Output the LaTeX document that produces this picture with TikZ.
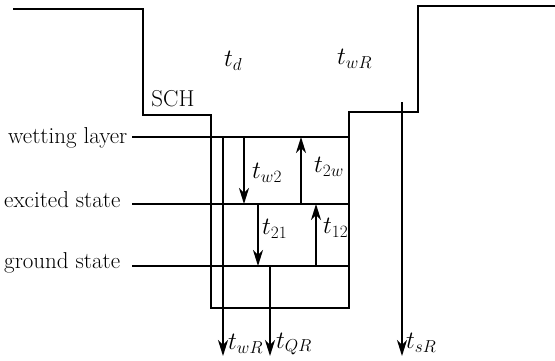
\documentclass[tikz,border=0pt]{standalone}
\usetikzlibrary{arrows.meta}
\begin{document}
\begin{tikzpicture}[x=1pt,y=-1pt,
  wall/.style={line width=2pt,line join=miter},
  arr/.style={line width=2pt,-{Stealth[length=16pt,width=10pt,inset=5pt]}},
  lbl/.style={inner sep=0pt,font=\fontsize{23}{27}\selectfont},
  mlbl/.style={inner sep=0pt,anchor=west,font=\fontsize{23}{27}\selectfont}]
\useasboundingbox (0,0) rectangle (555,360);
% profile corners
\coordinate (p1) at (13,9);
\coordinate (p2) at (143,9);
\coordinate (p3) at (143,115);
\coordinate (p4) at (211,115);
\coordinate (p5) at (211,308);
\coordinate (p6) at (349,308);
\coordinate (p7) at (349,112);
\coordinate (p8) at (418,112);
\coordinate (p9) at (418,6);
\coordinate (p10) at (555,6);
\draw[wall] (p1) -- (p2) -- (p3) -- (p4) -- (p5) -- (p6) -- (p7) -- (p8) -- (p9) -- (p10);
% level labels
\node[lbl,anchor=base west] (wl) at (8,143) {wetting layer};
\node[lbl,anchor=base west] (es) at (4,207) {excited state};
\node[lbl,anchor=base west] (gs) at (4,268) {ground state};
% level lines
\coordinate (w0) at (132,137); \coordinate (w1) at (349,137);
\coordinate (e0) at (132,204); \coordinate (e1) at (349,204);
\coordinate (g0) at (132,266); \coordinate (g1) at (349,266);
\draw[wall] (w0) -- (w1);
\draw[wall] (e0) -- (e1);
\draw[wall] (g0) -- (g1);
% arrows
\coordinate (a1s) at (223,137); \coordinate (a1e) at (223,356);
\coordinate (a2s) at (244,137); \coordinate (a2e) at (244,204);
\coordinate (a3s) at (301,204); \coordinate (a3e) at (301,137);
\coordinate (a4s) at (258,204); \coordinate (a4e) at (258,266);
\coordinate (a5s) at (316,266); \coordinate (a5e) at (316,204);
\coordinate (a6s) at (270,266); \coordinate (a6e) at (270,356);
\coordinate (a7s) at (402,102); \coordinate (a7e) at (402,356);
\draw[arr] (a1s) -- (a1e);
\draw[arr] (a2s) -- (a2e);
\draw[arr] (a3s) -- (a3e);
\draw[arr] (a4s) -- (a4e);
\draw[arr] (a5s) -- (a5e);
\draw[arr] (a6s) -- (a6e);
\draw[arr] (a7s) -- (a7e);
% labels
\node[lbl] (sch) at (173,99) {SCH};
\node[mlbl] (td) at (224,61) {$t_d$};
\node[mlbl] (twRt) at (337,59) {$t_{wR}$};
\node[mlbl] (tw2) at (252,173) {$t_{w2}$};
\node[mlbl] (t2w) at (314,167) {$t_{2w}$};
\node[mlbl] (t21) at (262,229) {$t_{21}$};
\node[mlbl] (t12) at (323,228) {$t_{12}$};
\node[mlbl] (twRb) at (228,344) {$t_{wR}$};
\node[mlbl] (tQR) at (276,344) {$t_{QR}$};
\node[mlbl] (tsR) at (406,343) {$t_{sR}$};
\end{tikzpicture}
\end{document}
